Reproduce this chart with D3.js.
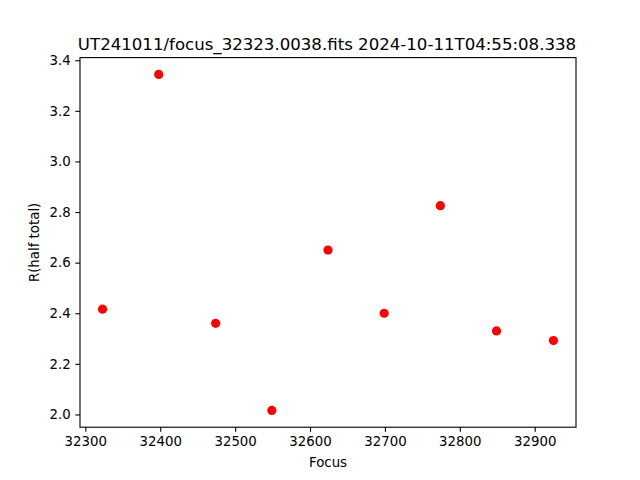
<!DOCTYPE html>
<html><head><meta charset="utf-8">
<script src="https://cdn.jsdelivr.net/npm/d3@7"></script>
<style>body{margin:0;background:#fff}svg{display:block}text{font-family:"DejaVu Sans",sans-serif;fill:#000}</style>
</head><body>
<script>
const titleText = "UT241011/focus_32323.0038.fits 2024-10-11T04:55:08.338";
const focus = [32323, 32398, 32474, 32549, 32624, 32699, 32774, 32849, 32925];
const rHalf = [2.416, 3.344, 2.36, 2.016, 2.65, 2.40, 2.825, 2.330, 2.292];
const xTicks = [32300, 32400, 32500, 32600, 32700, 32800, 32900];
const yTicks = [2.0, 2.2, 2.4, 2.6, 2.8, 3.0, 3.2, 3.4];

const W = 640, H = 480;
const L = 80, R = 576, T = 57.6, B = 427.2;
const svg = d3.select("body").append("svg").attr("width", W).attr("height", H);

const xmin = d3.min(focus), xmax = d3.max(focus), xm = (xmax - xmin) * 0.05;
const ymin = d3.min(rHalf), ymax = d3.max(rHalf), ym = (ymax - ymin) * 0.05;
const x = d3.scaleLinear().domain([xmin - xm, xmax + xm]).range([L, R]);
const y = d3.scaleLinear().domain([ymin - ym, ymax + ym]).range([B, T]);

const xAxis = svg.append("g").attr("transform", `translate(0,${B})`)
  .call(d3.axisBottom(x).tickValues(xTicks).tickFormat(d3.format("d")).tickSizeOuter(0).tickSize(4.67).tickPadding(4.67));
const yAxis = svg.append("g").attr("transform", `translate(${L},0)`)
  .call(d3.axisLeft(y).tickValues(yTicks).tickFormat(d3.format(".1f")).tickSizeOuter(0).tickSize(4.67).tickPadding(4.67));
[xAxis, yAxis].forEach(g => {
  g.select(".domain").remove();
  g.selectAll(".tick line").attr("stroke", "#000").attr("stroke-width", 1.1);
  g.selectAll(".tick text").attr("font-size", "13.33px").attr("font-family", "DejaVu Sans").attr("fill", "#000");
});

svg.append("rect").attr("x", L).attr("y", T).attr("width", R - L).attr("height", B - T)
  .attr("fill", "none").attr("stroke", "#000").attr("stroke-width", 1.1);

svg.append("g").selectAll("circle").data(focus).join("circle")
  .attr("cx", (d) => x(d)).attr("cy", (d, i) => y(rHalf[i])).attr("r", 4.6).attr("fill", "#ff0000");

svg.append("text").attr("x", (L + R) / 2 - 1).attr("y", 50).attr("text-anchor", "middle")
  .attr("font-size", "16.6px").text(titleText);
svg.append("text").attr("x", (L + R) / 2).attr("y", 467).attr("text-anchor", "middle")
  .attr("font-size", "13.33px").text("Focus");
svg.append("text").attr("transform", `translate(39,${(T + B) / 2}) rotate(-90)`).attr("text-anchor", "middle")
  .attr("font-size", "13.33px").text("R(half total)");
</script>
</body></html>
